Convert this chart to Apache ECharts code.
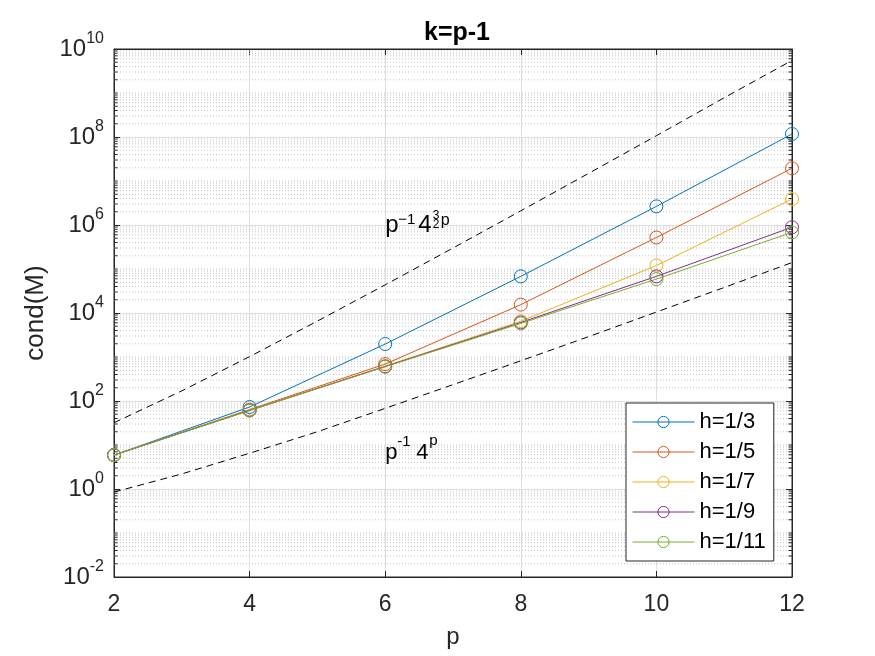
<!DOCTYPE html>
<html>
<head>
<meta charset="utf-8">
<script src="https://cdn.jsdelivr.net/npm/echarts@6/dist/echarts.min.js"></script>
<style>
html, body { margin: 0; padding: 0; background: #fff; }
#chart { width: 875px; height: 656px; }
</style>
</head>
<body>
<div id="chart"></div>
<script>
// values
var pValues = [2, 4, 6, 8, 10, 12];
var seriesNames = ['h=1/3', 'h=1/5', 'h=1/7', 'h=1/9', 'h=1/11'];
var condH3 = [5.9, 73, 1970, 68000, 2650000, 117000000];
var condH5 = [5.9, 64, 690, 15500, 520000, 19400000];
var condH7 = [5.9, 62, 620, 6500, 120000, 3900000];
var condH9 = [5.9, 61, 610, 6100, 68000, 890000];
var condH11 = [5.9, 61, 600, 5800, 59000, 680000];

// dashed reference curves, read at every integer p
var boundP = [2, 3, 4, 5, 6, 7, 8, 9, 10, 11, 12];
var upperBound = [32, 170, 1020, 6550, 43700, 300000, 2100000, 14900000, 107000000, 780000000, 5500000000];
var lowerBound = [0.85, 2.2, 6.5, 20, 68, 235, 820, 2900, 10500, 38000, 140000];

var xTicks = [2, 4, 6, 8, 10, 12];
var colors = ['#0072BD', '#D95319', '#EDB120', '#7E2F8E', '#77AC30'];

// where the two curve labels sit (data coords)
var annotUpper = [6, 1e6];
var annotLower = [6, 6.5];

var FONT = 'Liberation Sans, Arial, Helvetica, sans-serif';
var INK = '#262626';

function zip(xs, ys) {
  var out = [];
  for (var i = 0; i < xs.length; i++) out.push([xs[i], ys[i]]);
  return out;
}

// minor log grid: 2..9 of each decade, plus the unlabelled odd decades
var minorVals = [];
for (var n = -2; n < 10; n++) {
  for (var k = 1; k < 10; k++) {
    if (k === 1 && n % 2 === 0) continue;
    minorVals.push([2, k * Math.pow(10, n)]);
  }
}

var allCond = [condH3, condH5, condH7, condH9, condH11];

var series = [];
series.push({
  type: 'custom',
  name: 'minor',
  silent: true,
  z: 1,
  data: minorVals,
  encode: { x: 0, y: 1 },
  renderItem: function (params, api) {
    var v = api.value(1);
    var a = api.coord([2, v]);
    var b = api.coord([12, v]);
    return {
      type: 'group',
      children: [
        { type: 'line', shape: { x1: a[0], y1: a[1], x2: b[0], y2: b[1] },
          style: { stroke: '#c4c4c4', lineWidth: 1, lineDash: [1, 2] } },
        { type: 'line', shape: { x1: a[0], y1: a[1], x2: a[0] + 3.5, y2: a[1] },
          style: { stroke: INK, lineWidth: 1 } },
        { type: 'line', shape: { x1: b[0] - 3.5, y1: b[1], x2: b[0], y2: b[1] },
          style: { stroke: INK, lineWidth: 1 } }
      ]
    };
  }
});

for (var i = 0; i < seriesNames.length; i++) {
  series.push({
    type: 'line',
    name: seriesNames[i],
    data: zip(pValues, allCond[i]),
    symbol: 'circle',
    symbolSize: 13,
    z: 5,
    lineStyle: { color: colors[i], width: 1 },
    itemStyle: { color: 'transparent', borderColor: colors[i], borderWidth: 1 },
    emphasis: { disabled: true }
  });
}

series.push({
  type: 'line',
  name: 'upper',
  data: zip(boundP, upperBound),
  symbol: 'none',
  z: 4,
  lineStyle: { color: '#000', width: 1, type: [7, 5] },
  emphasis: { disabled: true }
});
series.push({
  type: 'line',
  name: 'lower',
  data: zip(boundP, lowerBound),
  symbol: 'none',
  z: 4,
  lineStyle: { color: '#000', width: 1, type: [7, 5] },
  emphasis: { disabled: true }
});

var option = {
  animation: false,
  textStyle: { fontFamily: FONT },
  title: {
    text: 'k=p-1',
    left: 419,
    top: 16,
    textStyle: { fontFamily: FONT, fontSize: 25, fontWeight: 'bold', color: '#000' }
  },
  grid: {
    left: 114, right: 83, top: 49, bottom: 79,
    show: true, borderColor: INK, borderWidth: 1
  },
  legend: {
    data: seriesNames,
    orient: 'vertical',
    left: 626,
    top: 403,
    padding: [8, 8, 8, 6],
    itemGap: 8,
    itemWidth: 62,
    itemHeight: 14,
    backgroundColor: '#fff',
    borderColor: INK,
    borderWidth: 1,
    borderRadius: 0,
    selectedMode: false,
    lineStyle: { width: 1 },
    itemStyle: { borderWidth: 1 },
    textStyle: { fontFamily: FONT, fontSize: 22, lineHeight: 22, color: '#000' }
  },
  xAxis: [{
    type: 'value',
    min: 2, max: 12, interval: 2,
    name: 'p',
    nameLocation: 'middle',
    nameGap: 48,
    nameTextStyle: { fontFamily: FONT, fontSize: 24, color: INK },
    axisLine: { show: true, onZero: false, lineStyle: { color: INK } },
    axisTick: { show: true, inside: true, length: 6, lineStyle: { color: INK } },
    axisLabel: {
      margin: 16, fontSize: 23, color: INK, fontFamily: FONT,
      formatter: function (v) { return xTicks.indexOf(v) >= 0 ? String(v) : ''; }
    },
    splitLine: { show: true, lineStyle: { color: '#dfdfdf', width: 1 } }
  }, {
    type: 'value',
    min: 2, max: 12, interval: 2,
    position: 'top',
    axisLine: { show: true, onZero: false, lineStyle: { color: INK } },
    axisTick: { show: true, inside: true, length: 6, lineStyle: { color: INK } },
    axisLabel: { show: false },
    splitLine: { show: false }
  }],
  yAxis: [{
    type: 'log',
    logBase: 10,
    min: 0.01, max: 1e10, interval: 2,
    name: 'cond(M)',
    nameLocation: 'middle',
    nameGap: 65,
    nameTextStyle: { fontFamily: FONT, fontSize: 26, color: INK },
    axisLine: { show: true, onZero: false, lineStyle: { color: INK } },
    axisTick: { show: true, inside: true, length: 6, lineStyle: { color: INK } },
    axisLabel: {
      margin: 10,
      formatter: function (v) {
        var e = Math.round(Math.log(v) / Math.LN10);
        return '{b|10}{s|' + e + '}';
      },
      rich: {
        b: { fontFamily: FONT, fontSize: 24, color: INK, lineHeight: 36 },
        s: { fontFamily: FONT, fontSize: 16, color: INK, verticalAlign: 'top', lineHeight: 17 }
      }
    },
    splitLine: { show: true, lineStyle: { color: '#dfdfdf', width: 1 } }
  }, {
    type: 'log',
    logBase: 10,
    min: 0.01, max: 1e10, interval: 2,
    position: 'right',
    axisLine: { show: true, onZero: false, lineStyle: { color: INK } },
    axisTick: { show: true, inside: true, length: 6, lineStyle: { color: INK } },
    axisLabel: { show: false },
    splitLine: { show: false }
  }],
  series: series
};

var chart = echarts.init(document.getElementById('chart'), null, { renderer: 'canvas' });
chart.setOption(option);

// curve labels built from pieces so the stacked 3/2 exponent can be drawn
function piece(anchor, text, dx, dy, size) {
  return {
    type: 'text',
    x: anchor[0] + dx,
    y: anchor[1] + dy,
    z: 20,
    silent: true,
    style: {
      text: text, fill: '#000', fontFamily: FONT, fontSize: size,
      align: 'left', verticalAlign: 'middle'
    }
  };
}

var a1 = chart.convertToPixel({ gridIndex: 0 }, annotUpper);
var a2 = chart.convertToPixel({ gridIndex: 0 }, annotLower);

chart.setOption({
  graphic: [
    piece(a1, 'p', 0, 0, 24),
    piece(a1, '\u22121', 13, -5, 15),
    piece(a1, '4', 33, 0, 24),
    piece(a1, '3', 47.5, -9.5, 12),
    piece(a1, '2', 47.5, 0, 12),
    piece(a1, 'p', 55.5, -4, 16),
    piece(a2, 'p', 0, 0, 22),
    piece(a2, '-1', 12, -11, 15),
    piece(a2, '4', 31, 0, 22),
    piece(a2, 'p', 44, -12, 15)
  ]
});
</script>
</body>
</html>
